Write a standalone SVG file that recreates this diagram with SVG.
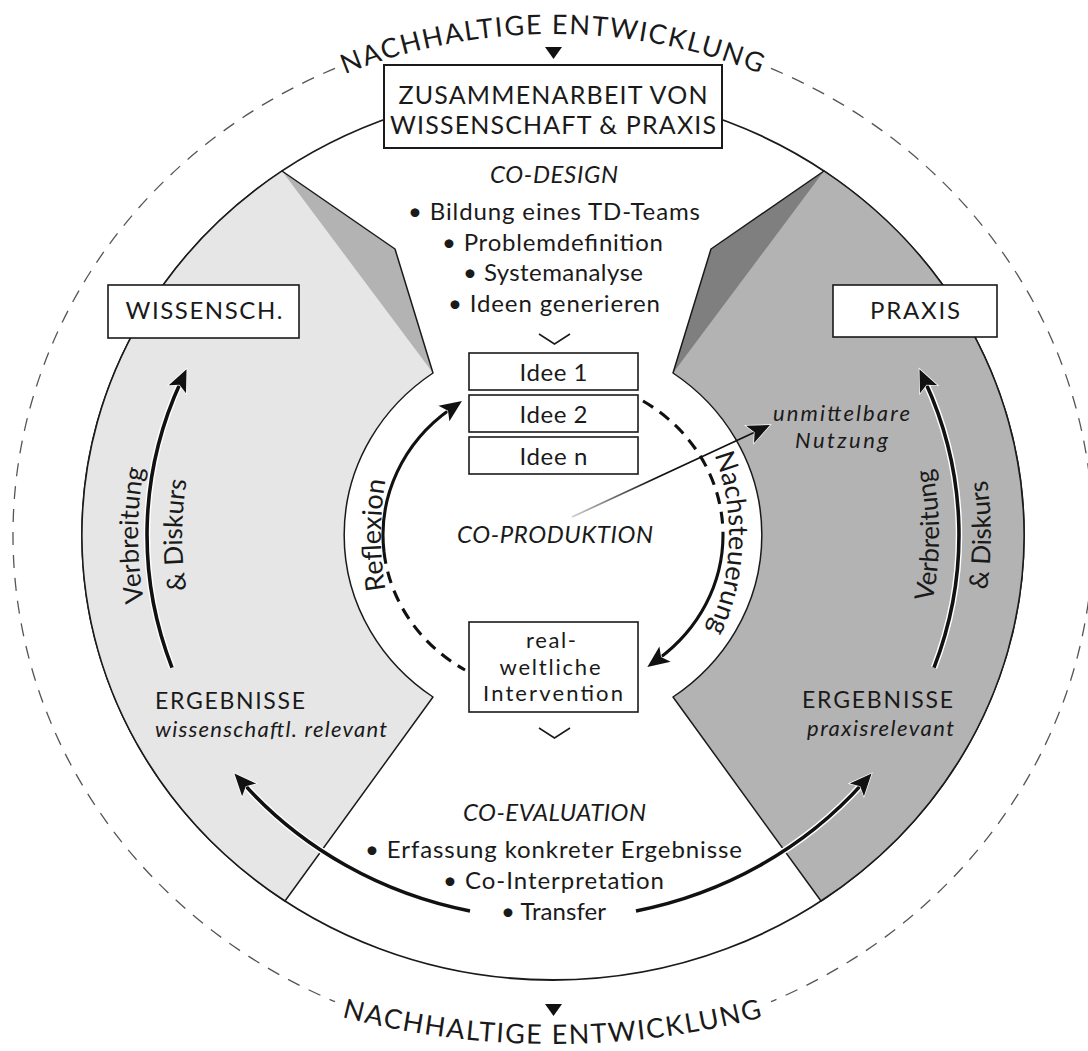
<svg xmlns="http://www.w3.org/2000/svg" width="1088" height="1051" viewBox="0 0 1088 1051">
<defs>
<style>
.t{font-family:Lato,"Open Sans","Liberation Sans",sans-serif;fill:#1a1a1a;text-anchor:middle}
.it{font-style:italic}
.f22{font-size:22px}
.f24{font-size:24px}
.f27{font-size:27px}
.box{fill:#fff;stroke:#1a1a1a;stroke-width:1.6}
.arr{fill:none;stroke:#111;stroke-width:3.6}
.arr2{fill:none;stroke:#111;stroke-width:3.1}
.halo{fill:none;stroke:#fff;stroke-width:6.5}
.dash{stroke-dasharray:12 8}
.ring{fill:none;stroke:#555;stroke-width:1.3;stroke-dasharray:13 10}
.edge{fill:none;stroke:#1a1a1a;stroke-width:1.5;stroke-linejoin:round}
.chev{fill:none;stroke:#1a1a1a;stroke-width:1.5}
</style>
<marker id="ah" viewBox="0 0 22 19" refX="8" refY="9.5" markerWidth="22" markerHeight="19" markerUnits="userSpaceOnUse" orient="auto" overflow="visible">
<path d="M0,0 L22,9.5 L0,19 L5,9.5 Z" fill="#111" stroke="#fff" stroke-width="1.4" paint-order="stroke"/>
</marker>
<linearGradient id="fade" x1="0" y1="0" x2="1" y2="0">
<stop offset="0" stop-color="#cfcfcf"/>
<stop offset="0.45" stop-color="#111"/>
</linearGradient>
<path id="pTop" d="M23,535 A530,501 0 0 1 1083,535"/>
<path id="pBot" d="M250,987.2 A836.7,836.7 0 0 0 856,987.2"/>
<path id="pRefl" d="M553,775 A172,240 0 0 1 553,295"/>
<path id="pNach" d="M553,335 A176,200 0 0 1 553,735"/>
<path id="pVL" d="M553,927 A415,392 0 0 1 553,143"/>
<path id="pDL" d="M553,886 A371,351 0 0 1 553,184"/>
<path id="pVR" d="M553,900 A386,365 0 0 0 553,170"/>
<path id="pDR" d="M553,949 A438,414 0 0 0 553,121"/>
</defs>

<rect width="1088" height="1051" fill="#fff"/>

<g id="ring">
<path class="ring" d="M335,68.4 A540,510 0 0 0 335,1001.6"/>
<path class="ring" d="M771,68.4 A540,510 0 0 1 771,1001.6"/>
<text class="t f27" letter-spacing="1.6"><textPath href="#pTop" startOffset="50%">NACHHALTIGE ENTWICKLUNG</textPath></text>
<text class="t f27" letter-spacing="1.6"><textPath href="#pBot" startOffset="50%">NACHHALTIGE ENTWICKLUNG</textPath></text>
</g>

<g id="disc">
<ellipse cx="553" cy="535" rx="471" ry="445" fill="#fff" stroke="#1a1a1a" stroke-width="1.8"/>
</g>

<g id="panel-wissenschaft">
<path d="M282,171 A471,445 0 0 0 285,901 L433,697 A209,198 0 0 1 433,373 L395,249 Z" fill="#e6e6e6"/>
<path d="M282,171 L395,249 L433,373 Z" fill="#b3b3b3"/>
<path class="edge" d="M282,171 A471,445 0 0 0 285,901 L433,697 A209,198 0 0 1 433,373 L395,249 Z"/>
</g>

<g id="panel-praxis">
<path d="M824,171 A471,445 0 0 1 821,901 L673,697 A209,198 0 0 0 673,373 L711,249 Z" fill="#b3b3b3"/>
<path d="M824,171 L711,249 L673,373 Z" fill="#7f7f7f"/>
<path class="edge" d="M824,171 A471,445 0 0 1 821,901 L673,697 A209,198 0 0 0 673,373 L711,249 Z"/>
</g>

<g id="zusammenarbeit">
<rect x="384" y="65" width="338" height="83" fill="#fff" stroke="#1a1a1a" stroke-width="2"/>
<text class="t" font-size="25" x="553" y="103.5" textLength="309">ZUSAMMENARBEIT VON</text>
<text class="t" font-size="25" x="553" y="134" textLength="326">WISSENSCHAFT &amp; PRAXIS</text>
</g>

<g id="co-design">
<text class="t it f24" x="554" y="183" textLength="128">CO-DESIGN</text>
<text class="t f24" x="554" y="220" textLength="292">• Bildung eines TD-Teams</text>
<text class="t f24" x="552.5" y="251" textLength="221">• Problemdefinition</text>
<text class="t f24" x="553" y="281" textLength="180">• Systemanalyse</text>
<text class="t f24" x="554" y="312" textLength="212">• Ideen generieren</text>
</g>

<g id="wissensch">
<rect class="box" x="108" y="285" width="191" height="53"/>
<text class="t f24" x="204" y="319" textLength="157">WISSENSCH.</text>
</g>

<g id="praxis">
<rect class="box" x="833" y="285" width="164" height="52"/>
<text class="t f24" x="915" y="319" textLength="90">PRAXIS</text>
</g>

<g id="idee1">
<rect class="box" x="469" y="353" width="169" height="37"/>
<text class="t f24" x="553.5" y="381" textLength="68">Idee 1</text>
</g>
<g id="idee2">
<rect class="box" x="469" y="395" width="169" height="37"/>
<text class="t f24" x="553.5" y="423" textLength="68">Idee 2</text>
</g>
<g id="ideen">
<rect class="box" x="469" y="437" width="169" height="37"/>
<text class="t f24" x="553.5" y="465" textLength="68">Idee n</text>
</g>

<g id="intervention">
<rect class="box" x="469" y="622" width="169" height="90"/>
<text class="t f22" x="551" y="648" textLength="50">real-</text>
<text class="t f22" x="550" y="675" textLength="101">weltliche</text>
<text class="t f22" x="553" y="701" textLength="140">Intervention</text>
</g>

<g id="co-produktion">
<text class="t it f24" x="555" y="543" textLength="196">CO-PRODUKTION</text>
<text class="t f27"><textPath href="#pRefl" startOffset="50%">Reflexion</textPath></text>
<text class="t f27"><textPath href="#pNach" startOffset="51.4%">Nachsteuerung</textPath></text>
</g>

<g id="nutzung">
<text class="t it f22" x="841.5" y="421" textLength="137">unmittelbare</text>
<text class="t it f22" x="841.5" y="448" textLength="93">Nutzung</text>
</g>

<g id="ergebnisse-wissenschaft">
<text class="t" font-size="23" x="155" y="709" style="text-anchor:start" textLength="150">ERGEBNISSE</text>
<text class="t it f22" x="155" y="737" style="text-anchor:start" textLength="232">wissenschaftl. relevant</text>
<text class="t" font-size="26"><textPath href="#pVL" startOffset="50%">Verbreitung</textPath></text>
<text class="t" font-size="26"><textPath href="#pDL" startOffset="50%">&amp; Diskurs</textPath></text>
</g>

<g id="ergebnisse-praxis">
<text class="t" font-size="23" x="953" y="708" style="text-anchor:end" textLength="151">ERGEBNISSE</text>
<text class="t it f22" x="954" y="736" style="text-anchor:end" textLength="147">praxisrelevant</text>
<text class="t" font-size="26"><textPath href="#pVR" startOffset="50%">Verbreitung</textPath></text>
<text class="t" font-size="26"><textPath href="#pDR" startOffset="50%">&amp; Diskurs</textPath></text>
</g>

<g id="co-evaluation">
<text class="t it f24" x="554.5" y="821" textLength="183">CO-EVALUATION</text>
<text class="t f24" x="553.5" y="858" textLength="377">• Erfassung konkreter Ergebnisse</text>
<text class="t f24" x="553.5" y="889" textLength="221">• Co-Interpretation</text>
<text class="t f24" x="553.5" y="920" textLength="105">• Transfer</text>
</g>

<g id="connectors">
<path class="halo" d="M172,667.6 A406,384 0 0 1 180.7,381.9"/>
<path class="arr" d="M172,667.6 A406,384 0 0 1 180.7,381.9" marker-end="url(#ah)"/>
<path class="halo" d="M934,667.6 A406,384 0 0 0 925.3,381.9"/>
<path class="arr" d="M934,667.6 A406,384 0 0 0 925.3,381.9" marker-end="url(#ah)"/>
<path class="halo" d="M470,910.9 A406,384 0 0 1 243.8,783.9"/>
<path class="arr" d="M470,910.9 A406,384 0 0 1 243.8,783.9" marker-end="url(#ah)"/>
<path class="halo" d="M636,910.9 A406,384 0 0 0 862.2,783.9"/>
<path class="arr" d="M636,910.9 A406,384 0 0 0 862.2,783.9" marker-end="url(#ah)"/>
<path class="arr2" d="M384,552 A170,158 0 0 1 450.5,409" marker-end="url(#ah)"/>
<path class="arr2 dash" d="M384,552 A170,158 0 0 0 465,670"/>
<path class="arr2 dash" d="M643,401 A170,158 0 0 1 723,535"/>
<path class="arr2" d="M723,535 A170,158 0 0 1 658.6,658.8" marker-end="url(#ah)"/>
<path d="M572,517 L757.3,430.9" fill="none" stroke="url(#fade)" stroke-width="1.7" marker-end="url(#ah)"/>
<polyline class="chev" points="539,334 554.5,344 570,334"/>
<polyline class="chev" points="539,728 554.5,738 570,728"/>
<polygon points="545,47 562,47 553.5,59" fill="#111"/>
<polygon points="545,1004 562,1004 553.5,1016" fill="#111"/>
</g>
</svg>
